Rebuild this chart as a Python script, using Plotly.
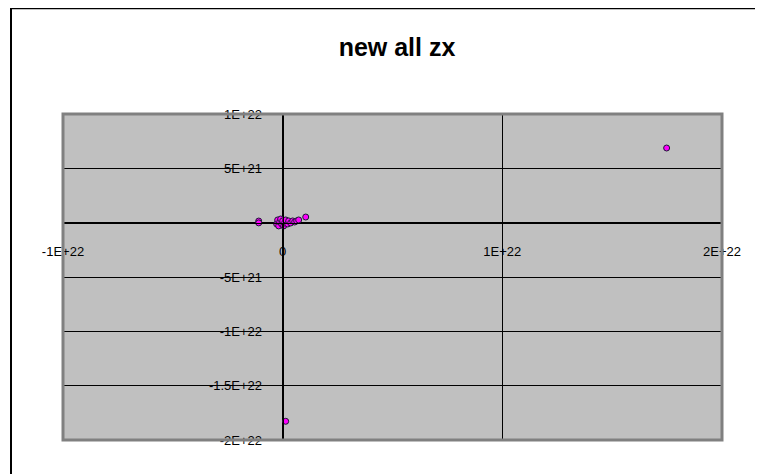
import plotly.graph_objects as go

# Data
x_vals = [-0.273e21, -0.228e21, -0.182e21, -0.137e21, -0.091e21, -0.046e21, 0.0, 0.046e21,
          0.091e21, 0.137e21, 0.228e21, 0.273e21, 0.364e21, 0.455e21, 0.546e21, 0.637e21,
          0.728e21, 1.05e21, -1.09e21, -1.09e21, 1.748e22, 0.137e21]
y_vals = [-0.12e21, 0.25e21, -0.30e21, 0.06e21, 0.34e21, -0.12e21, 0.16e21, -0.30e21,
          -0.03e21, 0.25e21, -0.12e21, 0.16e21, -0.03e21, 0.16e21, 0.06e21, 0.16e21,
          0.25e21, 0.52e21, 0.15e21, -0.02e21, 6.87e21, -1.828e22]

x_tickvals = [-1e22, 0, 1e22, 2e22]
x_ticktext = ["-1E+22", "0", "1E+22", "2E+22"]
y_tickvals = [1e22, 5e21, -5e21, -1e22, -1.5e22, -2e22]
y_ticktext = ["1E+22", "5E+21", "-5E+21", "-1E+22", "-1.5E+22", "-2E+22"]

OFF = 8  # page body margin
W, H = 763 - OFF, 474 - OFF
L, R, T, B = 63 - OFF, 722 - OFF, 114 - OFF, 440 - OFF
pw, ph = R - L, B - T

def px_x(p):
    return (p - OFF - L) / pw

def px_y(p):
    return (B - (p - OFF)) / ph

fig = go.Figure()
fig.add_trace(go.Scatter(
    x=x_vals, y=y_vals, mode="markers",
    marker=dict(color="#FF00FF", size=6, line=dict(color="#1a1a33", width=1)),
    showlegend=False, hoverinfo="x+y"))

fig.update_layout(
    width=W, height=H,
    margin=dict(l=L, r=W - R, t=T, b=H - B, pad=0),
    paper_bgcolor="white", plot_bgcolor="#C0C0C0",
    font=dict(family="Liberation Sans, Arial, sans-serif", size=13, color="black"),
    title=dict(text="<b>new all zx</b>", x=px_x(397), xref="paper", xanchor="center",
               y=1 - (47 - OFF) / H, yref="container", yanchor="middle",
               font=dict(size=25, family="Liberation Sans, Arial, sans-serif", color="black")),
    xaxis=dict(range=[-1e22, 2e22], tickvals=x_tickvals, ticktext=x_ticktext,
               anchor="free", position=2 / 3, side="bottom",
               showgrid=True, gridcolor="black", gridwidth=1,
               zeroline=False, showline=True, linecolor="black", linewidth=1,
               ticks="outside", ticklen=4, tickcolor="black", ticklabelstandoff=13,
               fixedrange=True),
    yaxis=dict(range=[-2e22, 1e22], tickvals=y_tickvals, ticktext=y_ticktext,
               anchor="free", position=1 / 3, side="left",
               showgrid=True, gridcolor="black", gridwidth=1,
               zeroline=True, zerolinecolor="black", zerolinewidth=1,
               showline=True, linecolor="black", linewidth=1,
               ticks="outside", ticklen=5, tickcolor="black", ticklabelstandoff=13,
               fixedrange=True),
    shapes=[
        dict(type="rect", xref="paper", yref="paper", x0=0, x1=1, y0=0, y1=1,
             line=dict(color="#808080", width=3), layer="above"),
        dict(type="line", xref="paper", yref="paper", x0=px_x(10), x1=px_x(800),
             y0=px_y(8.3), y1=px_y(8.3), line=dict(color="black", width=2)),
        dict(type="line", xref="paper", yref="paper", x0=px_x(11), x1=px_x(11),
             y0=px_y(7.3), y1=px_y(520), line=dict(color="black", width=2)),
    ],
)

fig.write_html("out.html")
